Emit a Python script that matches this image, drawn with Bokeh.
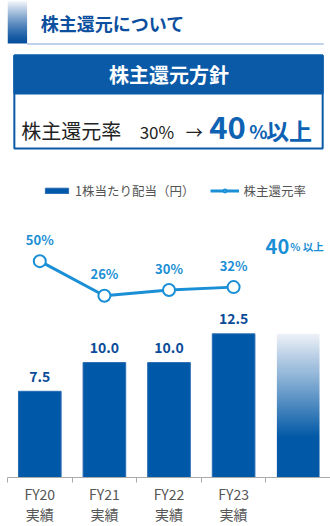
import numpy as np
from bokeh.plotting import figure
from bokeh.layouts import column
from bokeh.models import (Range1d, LinearAxis, FixedTicker, Legend, LegendItem)
from bokeh.core.properties import value
from bokeh.embed import file_html
from bokeh.resources import INLINE

# ---------------- data ----------------
categories = ["FY20", "FY21", "FY22", "FY23"]
sub_labels = ["実績", "実績", "実績", "実績"]
dividend = [7.5, 10.0, 10.0, 12.5]          # 1株当たり配当（円）
payout = [50, 26, 30, 32]                    # 株主還元率 (%)
dividend_labels = ["7.5", "10.0", "10.0", "12.5"]
payout_labels = ["50%", "26%", "30%", "32%"]
target_payout = 40                           # 40%以上
target_bar_height = 12.5

FONT = "Noto Sans CJK JP"
BAR_BLUE = "#0059a8"
LINE_BLUE = "#1a8fd6"
DARK_BLUE = "#0d4f9f"

W = 330
HEAD_H = 165
CHART_H = 526 - HEAD_H
FRAME_H = 310

# ---------------- header ----------------
h = figure(width=W, height=HEAD_H, x_range=Range1d(0, W), y_range=Range1d(0, HEAD_H),
           output_backend="svg", toolbar_location=None, min_border=0,
           x_axis_location=None, y_axis_location=None)
h.grid.visible = False
h.outline_line_color = None


def Y(py):
    return HEAD_H - py


# gradient side bar
n = 43
f = np.linspace(0, 1, n)  # 0 bottom -> 1 top
top_c = np.array([246, 248, 252])
bot_c = np.array([8, 80, 158])
g = f ** 1.3
cols = (bot_c[None, :] * (1 - g[:, None]) + top_c[None, :] * g[:, None]).astype(np.uint32)
img = np.zeros((n, 1), dtype=np.uint32)
view = img.view(dtype=np.uint8).reshape((n, 1, 4))
view[:, 0, 0] = cols[:, 0]
view[:, 0, 1] = cols[:, 1]
view[:, 0, 2] = cols[:, 2]
view[:, 0, 3] = 255
h.image_rgba(image=[img], x=0, y=Y(43), dw=20, dh=43)
h.segment(x0=[20], y0=[Y(43.5)], x1=[323], y1=[Y(43.5)], line_color="#a9c5e4", line_width=1.5)
h.text(x=[34], y=[Y(22)], text=["株主還元について"], text_font=value(FONT), text_font_style="bold",
       text_font_size="18px", text_color=DARK_BLUE, text_baseline="middle", text_align="left")

# policy box
h.quad(left=[7], right=[322], top=[Y(55)], bottom=[Y(148)], fill_color="white",
       line_color="#0a5aa8", line_width=2)
h.quad(left=[7], right=[322], top=[Y(55)], bottom=[Y(93)], fill_color="#0a5aa8",
       line_color="#0a5aa8", line_width=2)
h.text(x=[165], y=[Y(74)], text=["株主還元方針"], text_font=value(FONT), text_font_style="bold",
       text_font_size="20px", text_color="white", text_baseline="middle", text_align="center")
h.text(x=[14], y=[Y(130)], text=["株主還元率"], text_font=value(FONT), text_font_size="20px",
       text_color="#222222", text_baseline="middle")
h.text(x=[135], y=[Y(131)], text=["30%"], text_font=value(FONT), text_font_size="17px",
       text_color="#222222", text_baseline="middle")
h.text(x=[182], y=[Y(131)], text=["→"], text_font=value(FONT), text_font_size="17px",
       text_color="#222222", text_baseline="middle")
h.text(x=[206], y=[Y(127)], text=["40"], text_font=value(FONT), text_font_style="bold",
       text_font_size="31px", text_color="#0d62b3", text_baseline="middle")
h.text(x=[247], y=[Y(130)], text=["%"], text_font=value(FONT), text_font_style="bold",
       text_font_size="19px", text_color="#0d62b3", text_baseline="middle")
h.text(x=[264], y=[Y(129)], text=["以上"], text_font=value(FONT), text_font_style="bold",
       text_font_size="23px", text_color="#0d62b3", text_baseline="middle")

# ---------------- chart ----------------
p = figure(width=W, height=CHART_H, x_range=Range1d(0, 5),
           y_range=Range1d(0, FRAME_H / 11.42),
           output_backend="svg", toolbar_location=None,
           min_border_left=7, min_border_right=0, min_border_top=0, min_border_bottom=0,
           x_axis_location=None, y_axis_location=None)
p.grid.visible = False
p.outline_line_color = None
p.extra_y_ranges = {"pct": Range1d(-100, -100 + FRAME_H / 1.433)}

xs = np.arange(len(categories)) + 0.5
x_target = len(categories) + 0.5

bars = p.vbar(x=xs, top=dividend, width=0.66, fill_color=BAR_BLUE, line_color="#2a6cb3", line_width=1)

# gradient (target) bar
m = 143
fr = np.linspace(0, 1, m)  # 0 bottom -> 1 top
pale = np.array([240, 243, 249])
deep = np.array([0, 88, 166])
t = np.clip((fr - 0.27) / 0.73, 0, 1)
gc = (deep[None, :] * (1 - t[:, None]) + pale[None, :] * t[:, None]).astype(np.uint32)
gimg = np.zeros((m, 1), dtype=np.uint32)
gv = gimg.view(dtype=np.uint8).reshape((m, 1, 4))
gv[:, 0, 0] = gc[:, 0]
gv[:, 0, 1] = gc[:, 1]
gv[:, 0, 2] = gc[:, 2]
gv[:, 0, 3] = 255
p.image_rgba(image=[gimg], x=x_target - 0.33, y=0, dw=0.66, dh=target_bar_height)

p.text(x=xs, y=dividend, text=dividend_labels, text_font=value(FONT), text_font_style="bold",
       text_font_size="14px", text_color="#0b4c98", text_align="center", text_baseline="middle",
       y_offset=-15)

line = p.line(x=xs, y=payout, y_range_name="pct", line_color=LINE_BLUE, line_width=3)
dots = p.scatter(x=xs, y=payout, y_range_name="pct", size=12, fill_color="white",
                 line_color=LINE_BLUE, line_width=2)
p.text(x=xs, y=payout, y_range_name="pct", text=payout_labels, text_font=value(FONT),
       text_font_style="bold", text_font_size="13px", text_color=LINE_BLUE, text_align="center",
       text_baseline="middle", y_offset=-22)

# target label 40% 以上
p.text(x=[x_target], y=[target_payout], y_range_name="pct", text=[f"{target_payout}"],
       text_font=value(FONT), text_font_style="bold", text_font_size="20px", text_color=LINE_BLUE,
       text_align="right", text_baseline="alphabetic", x_offset=-9, y_offset=-29)
p.text(x=[x_target], y=[target_payout], y_range_name="pct", text=["% 以上"],
       text_font=value(FONT), text_font_style="bold", text_font_size="10.5px", text_color=LINE_BLUE,
       text_align="left", text_baseline="alphabetic", x_offset=-8, y_offset=-29)

# axis
ax = LinearAxis(ticker=FixedTicker(ticks=list(xs), minor_ticks=list(range(0, 6))))
ax.major_label_overrides = {float(x): f"{c}\n{s}" for x, c, s in zip(xs, categories, sub_labels)}
ax.major_tick_line_color = None
ax.major_tick_out = 0
ax.minor_tick_in = 0
ax.minor_tick_out = 5
ax.minor_tick_line_color = "#aaaaaa"
ax.axis_line_color = "#aaaaaa"
ax.major_label_text_font = FONT
ax.major_label_text_font_size = "14px"
ax.major_label_text_color = "#555555"
ax.major_label_standoff = 1
ax.major_label_text_line_height = 1.0
p.add_layout(ax, "below")

legend = Legend(items=[LegendItem(label="1株当たり配当（円）", renderers=[bars]),
                       LegendItem(label="株主還元率", renderers=[line, dots])],
                orientation="horizontal", location=(35, 277), glyph_width=29, glyph_height=7,
                label_text_font=FONT, label_text_font_size="12.5px", label_text_color="#555555",
                spacing=16, padding=0, margin=0, border_line_alpha=0, background_fill_alpha=0,
                label_standoff=4)
p.add_layout(legend, "center")

layout = column(h, p, spacing=0)
open("out.html", "w").write(file_html(layout, INLINE))
